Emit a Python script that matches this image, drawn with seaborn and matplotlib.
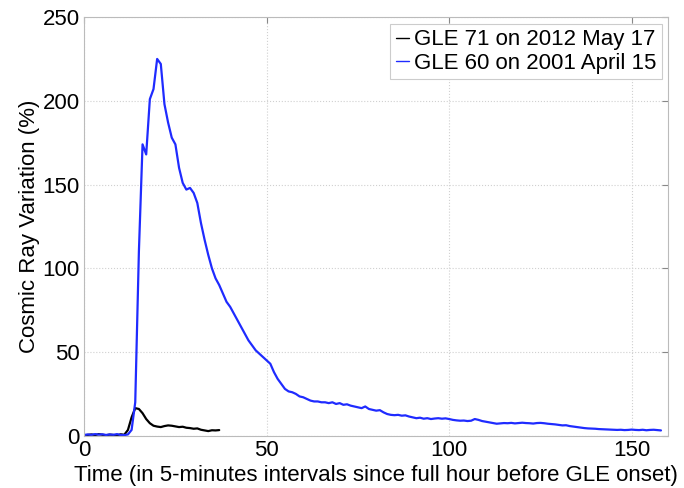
import numpy as np
import pandas as pd
import matplotlib
matplotlib.use("Agg")
import matplotlib.pyplot as plt
import seaborn as sns

# GLE 71 on 2012 May 17 (black), x = 0..37
gle71 = [0.3, 0.5, 0.8, 0.4, 1.0, 0.6, 0.3, 0.7, 0.5, 0.2, 0.9, 0.6, 3.5, 11, 16.5,
         16, 13.5, 10, 7.5, 6, 5.5, 5.2, 5.8, 6.2, 6, 5.6, 5.2, 5.4, 4.8, 4.6,
         4.2, 4.4, 3.6, 3.2, 2.8, 3.3, 3.2, 3.4]

# GLE 60 on 2001 April 15 (blue), x = 0..158
gle60 = [0.5, 0.8, 0.6, 1.0, 0.7, 0.9, 0.5, 0.8, 0.6, 1.0, 0.5, 0.4, 0.8, 3.5, 20,
         110, 174, 168, 201, 207, 225, 222, 198, 187, 178, 174, 160, 151, 147, 148,
         145, 139, 127, 117, 108, 100, 94, 90, 85, 80, 77, 73, 69, 65, 61,
         57, 54, 51, 49, 47, 45, 43, 38, 34, 31, 28, 26.5, 26, 25, 23.5,
         23, 22, 21, 20.5, 20.5, 20, 20, 19.5, 20, 19, 19.5, 18.5, 18.8, 18, 17.5,
         17, 16.5, 17.5, 16, 15.5, 15, 15.3, 14, 13, 12.5, 12.3, 12.5, 12, 12.2, 11.5,
         11, 10.5, 10.8, 10.2, 10.5, 10, 10.3, 10.5, 10.2, 10.4, 10, 9.5, 9.2, 9, 9.1,
         8.8, 9.0, 10, 9.5, 8.8, 8.4, 8, 7.6, 7.2, 7.4, 7.6, 7.5, 7.7, 7.4, 7.6,
         7.8, 7.6, 7.5, 7.3, 7.6, 7.7, 7.5, 7.2, 7.0, 6.8, 6.5, 6.2, 6.3, 5.8, 5.5,
         5.2, 4.9, 4.6, 4.4, 4.3, 4.2, 4.0, 3.9, 3.8, 3.7, 3.6, 3.5, 3.6, 3.4, 3.5,
         3.7, 3.5, 3.4, 3.6, 3.3, 3.5, 3.6, 3.4, 3.2]

labels = ["GLE 71 on 2012 May 17", "GLE 60 on 2001 April 15"]

df = pd.concat([
    pd.DataFrame({"t": np.arange(len(gle71)), "v": gle71, "event": labels[0]}),
    pd.DataFrame({"t": np.arange(len(gle60)), "v": gle60, "event": labels[1]}),
])

sns.set_style("white")
plt.rcParams["font.family"] = ["Liberation Sans", "DejaVu Sans"]
plt.rcParams["text.color"] = "black"
plt.rcParams["axes.labelcolor"] = "black"
plt.rcParams["xtick.color"] = "black"
plt.rcParams["ytick.color"] = "black"

fig = plt.figure(figsize=(6.84, 4.88), dpi=100)
ax = fig.add_axes([0.123, 0.107, 0.854, 0.858])

sns.lineplot(data=df, x="t", y="v", hue="event", hue_order=labels,
             palette=["black", "#1f2bff"], linewidth=1.6, ax=ax)

ax.set_xlim(0, 160)
ax.set_ylim(0, 250)
ax.set_xticks([0, 50, 100, 150])
ax.set_yticks([0, 50, 100, 150, 200, 250])
ax.grid(True, linestyle=":", color="#d0d0d0", linewidth=0.8)
ax.tick_params(direction="in", labelsize=16, length=4, top=True, right=True,
               color="#888888", pad=3)
for s in ax.spines.values():
    s.set_color("#bbbbbb")
    s.set_linewidth(0.8)

ax.set_xlabel("Time (in 5-minutes intervals since full hour before GLE onset)",
              fontsize=16, labelpad=3)
ax.set_ylabel("Cosmic Ray Variation (%)", fontsize=16, labelpad=2)

leg = ax.legend(loc="upper right", fontsize=16, handlelength=0.6,
                handletextpad=0.2, borderpad=0.25, labelspacing=0.1,
                fancybox=False, framealpha=1, borderaxespad=0.3)
leg.get_frame().set_edgecolor("#cccccc")
leg.get_frame().set_linewidth(0.8)
for h in leg.get_lines():
    h.set_linewidth(1.0)

fig.savefig("out.png", dpi=100)
